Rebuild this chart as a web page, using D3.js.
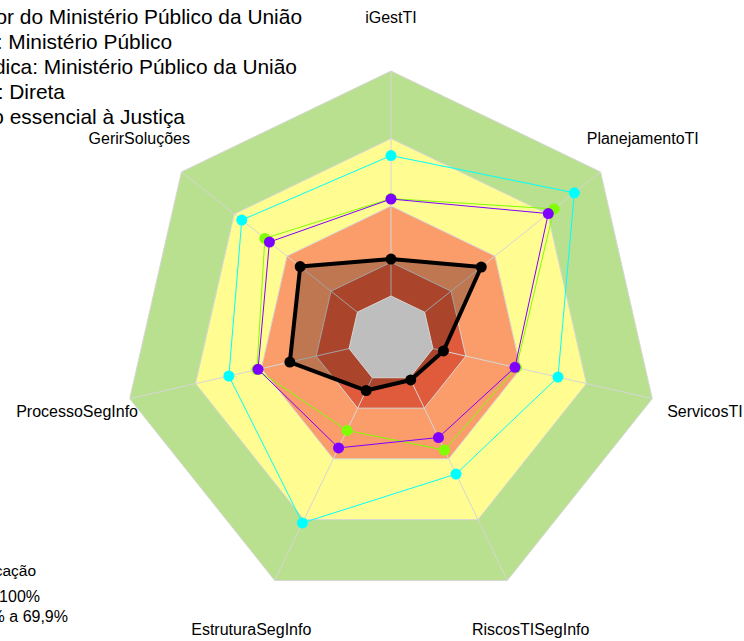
<!DOCTYPE html>
<html>
<head>
<meta charset="utf-8">
<script src="https://cdnjs.cloudflare.com/ajax/libs/d3/7.8.5/d3.min.js"></script>
<style>
  body { margin: 0; background: #fff; }
  svg { display: block; font-family: "Liberation Sans", Arial, sans-serif; }
</style>
</head>
<body>
<script>
var width = 744, height = 641;
var cx = 391, cy = 339;

// axes, clockwise from the top
var categories = ["iGestTI", "PlanejamentoTI", "ServicosTI", "RiscosTISegInfo",
                  "EstruturaSegInfo", "ProcessoSegInfo", "GerirSoluções"];

// values in %
var orgao     = [16.4, 32.2, 4.8, 1.1, 6.3, 27.0, 32.5];
var segmento  = [43.1, 70.3, 37.4, 29.5, 34.6, 41.5, 50.0];
var natureza  = [43.3, 73.6, 38.0, 35.7, 26.0, 42.0, 52.6];
var melhores  = [62.4, 85.1, 57.0, 47.5, 71.6, 54.8, 65.7];

// classification bands
var bandLimits = [100, 70, 40, 15];
var bandColors = ["#b9e08e", "#fffc92", "#fa9d6b", "#e05b3b"];
var bandLabels = ["Aprimorado: 70% a 100%", "Intermediário: 40% a 69,9%",
                  "Inicial: 15% a 39,9%", "Inexpressivo: 0 a 14,9%"];

var titleLines = [
  "Órgão: Escola Superior do Ministério Público da União",
  "Poder: Ministério Público",
  "Natureza jurídica: Ministério Público da União",
  "Administração: Direta",
  "Segmento: Função essencial à Justiça"
];

var svg = d3.select("body")
    .append("svg")
    .attr("width", width)
    .attr("height", height);

var r = d3.scaleLinear().domain([0, 100]).range([43, 268]);
var angle = d3.scaleLinear().domain([0, categories.length]).range([0, 2 * Math.PI]);

function pt(i, v) {
  var a = angle(i);
  return [cx + r(v) * Math.sin(a), cy - r(v) * Math.cos(a)];
}
function ring(v) {
  return categories.map(function (d, i) { return pt(i, v); });
}
var poly = d3.line().curve(d3.curveLinearClosed);

var g = svg.append("g");

// bands
g.selectAll("path.band")
  .data(bandLimits)
  .enter()
  .append("path")
  .attr("class", "band")
  .attr("d", function (d) { return poly(ring(d)); })
  .attr("fill", function (d, i) { return bandColors[i]; })
  .attr("stroke", "#d6d6d6")
  .attr("stroke-width", 1);

// spokes
g.selectAll("line.spoke")
  .data(categories)
  .enter()
  .append("line")
  .attr("class", "spoke")
  .attr("x1", cx).attr("y1", cy)
  .attr("x2", function (d, i) { return pt(i, 100)[0]; })
  .attr("y2", function (d, i) { return pt(i, 100)[1]; })
  .attr("stroke", "#d6d6d6")
  .attr("stroke-width", 1);

// filled area of the organ
g.append("path")
  .attr("d", poly(categories.map(function (d, i) { return pt(i, orgao[i]); })))
  .attr("fill", "rgba(0,0,0,0.24)");

// grey centre
g.append("path")
  .attr("d", poly(ring(0)))
  .attr("fill", "#bebebe")
  .attr("stroke", "#d6d6d6");

// comparison series
var series = [
  { values: melhores, color: "#00ffff", w: 1 },
  { values: natureza, color: "#80ff00", w: 1 },
  { values: segmento, color: "#8000ff", w: 1 },
  { values: orgao,    color: "#000000", w: 4 }
];

series.forEach(function (s) {
  var pts = s.values.map(function (v, i) { return pt(i, v); });
  g.append("path")
    .attr("d", poly(pts))
    .attr("fill", "none")
    .attr("stroke", s.color)
    .attr("stroke-width", s.w)
    .attr("stroke-linejoin", "round");
  g.selectAll(null)
    .data(pts)
    .enter()
    .append("circle")
    .attr("cx", function (d) { return d[0]; })
    .attr("cy", function (d) { return d[1]; })
    .attr("r", 5.5)
    .attr("fill", s.color);
});

// axis labels
svg.selectAll("text.axis")
  .data(categories)
  .enter()
  .append("text")
  .attr("class", "axis")
  .attr("x", function (d, i) { return cx + 322 * Math.sin(angle(i)); })
  .attr("y", function (d, i) { return cy - 322 * Math.cos(angle(i)) + 6; })
  .attr("text-anchor", "middle")
  .attr("font-size", 16)
  .attr("fill", "#000")
  .text(function (d) { return d; });

// title block (runs off the left edge)
var titleRight = [302, 172, 297, 65, 185];
svg.selectAll("text.title")
  .data(titleLines)
  .enter()
  .append("text")
  .attr("class", "title")
  .attr("x", function (d, i) { return titleRight[i]; })
  .attr("y", function (d, i) { return 24 + i * 25; })
  .attr("text-anchor", "end")
  .attr("font-size", 20.9)
  .attr("fill", "#000")
  .text(function (d) { return d; });

// legend (also partly off the left edge; the lower rows fall below the page)
svg.append("text")
  .attr("x", 36).attr("y", 576)
  .attr("text-anchor", "end")
  .attr("font-size", 15.5)
  .text("Classificação");

var legendRight = [40, 68];
svg.selectAll("text.leg")
  .data(bandLabels.slice(0, 2))
  .enter()
  .append("text")
  .attr("class", "leg")
  .attr("x", function (d, i) { return legendRight[i]; })
  .attr("y", function (d, i) { return 602 + i * 20; })
  .attr("text-anchor", "end")
  .attr("font-size", 16)
  .text(function (d) { return d; });
</script>
</body>
</html>
